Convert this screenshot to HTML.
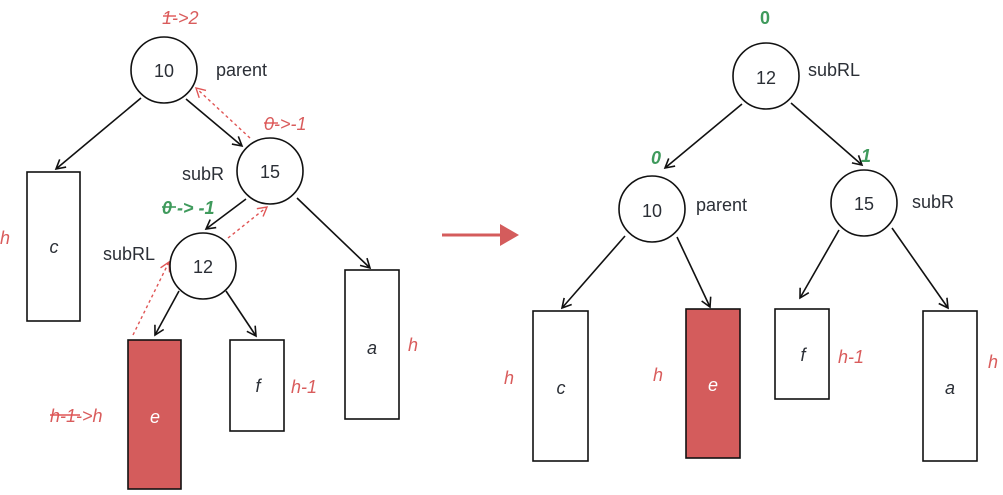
<!DOCTYPE html>
<html><head><meta charset="utf-8"><style>
html,body{margin:0;padding:0;background:#fff;}
svg{display:block;}
text{font-family:"Liberation Sans",sans-serif;}
.n{font-size:18px;fill:#2b2f36;text-anchor:middle;dominant-baseline:central;}
.lb{font-size:18px;fill:#2b2f36;dominant-baseline:central;}
.r{font-size:18px;fill:#d95c5c;font-style:italic;dominant-baseline:central;}
.g{font-size:18px;fill:#3f9a5c;font-style:italic;font-weight:bold;dominant-baseline:central;}
.it{font-size:18px;fill:#2b2f36;font-style:italic;text-anchor:middle;dominant-baseline:central;}
</style></head><body>
<svg width="1003" height="495" viewBox="0 0 1003 495">
<defs>
<marker id="ah" markerWidth="12" markerHeight="12" refX="10" refY="6" orient="auto" markerUnits="userSpaceOnUse">
<path d="M1,1 L10,6 L1,11" fill="none" stroke="#111" stroke-width="1.6"/></marker>
<marker id="rh" markerWidth="12" markerHeight="12" refX="10" refY="6" orient="auto" markerUnits="userSpaceOnUse">
<path d="M1,1 L10,6 L1,11" fill="none" stroke="#e05555" stroke-width="1.4"/></marker>
</defs>
<g stroke="#111" stroke-width="1.6" fill="none">
<!-- left edges -->
<line x1="141" y1="98" x2="56" y2="169" marker-end="url(#ah)"/>
<line x1="186" y1="99" x2="242" y2="146" marker-end="url(#ah)"/>
<line x1="246" y1="199" x2="206" y2="229" marker-end="url(#ah)"/>
<line x1="297" y1="198" x2="370" y2="268" marker-end="url(#ah)"/>
<line x1="179" y1="291" x2="155" y2="335" marker-end="url(#ah)"/>
<line x1="226" y1="291" x2="256" y2="336" marker-end="url(#ah)"/>
<!-- right edges -->
<line x1="742" y1="104" x2="665" y2="168" marker-end="url(#ah)"/>
<line x1="791" y1="103" x2="862" y2="165" marker-end="url(#ah)"/>
<line x1="625" y1="236" x2="562" y2="308" marker-end="url(#ah)"/>
<line x1="677" y1="237" x2="710" y2="307" marker-end="url(#ah)"/>
<line x1="839" y1="230" x2="800" y2="298" marker-end="url(#ah)"/>
<line x1="892" y1="228" x2="948" y2="308" marker-end="url(#ah)"/>
</g>
<g stroke="#e05555" stroke-width="1.4" stroke-dasharray="3,3" fill="none">
<line x1="250" y1="138" x2="196" y2="88" marker-end="url(#rh)"/>
<line x1="228" y1="238" x2="267" y2="207" marker-end="url(#rh)"/>
<line x1="133" y1="335" x2="169" y2="262" marker-end="url(#rh)"/>
</g>
<g fill="#fff" stroke="#111" stroke-width="1.6">
<circle cx="164" cy="70" r="33"/>
<circle cx="270" cy="171" r="33"/>
<circle cx="203" cy="266" r="33"/>
<circle cx="766" cy="76" r="33"/>
<circle cx="652" cy="209" r="33"/>
<circle cx="864" cy="203" r="33"/>
<rect x="27" y="172" width="53" height="149"/>
<rect x="128" y="340" width="53" height="149" fill="#d45c5c"/>
<rect x="230" y="340" width="54" height="91"/>
<rect x="345" y="270" width="54" height="149"/>
<rect x="533" y="311" width="55" height="150"/>
<rect x="686" y="309" width="54" height="149" fill="#d45c5c"/>
<rect x="775" y="309" width="54" height="90"/>
<rect x="923" y="311" width="54" height="150"/>
</g>
<text class="n" x="164" y="71">10</text>
<text class="n" x="270" y="172">15</text>
<text class="n" x="203" y="267">12</text>
<text class="n" x="766" y="78">12</text>
<text class="n" x="652" y="211">10</text>
<text class="n" x="864" y="204">15</text>
<text class="it" x="54" y="247">c</text>
<text class="it" x="155" y="417" style="fill:#fff">e</text>
<text class="it" x="258" y="386">f</text>
<text class="it" x="372" y="348">a</text>
<text class="it" x="561" y="388">c</text>
<text class="it" x="713" y="385" style="fill:#fff">e</text>
<text class="it" x="803" y="355">f</text>
<text class="it" x="950" y="388">a</text>
<text class="lb" x="216" y="70">parent</text>
<text class="lb" x="182" y="174">subR</text>
<text class="lb" x="103" y="254">subRL</text>
<text class="lb" x="808" y="70">subRL</text>
<text class="lb" x="696" y="205">parent</text>
<text class="lb" x="912" y="202">subR</text>
<text class="r" x="162" y="18">1-&gt;2</text>
<line x1="163" y1="16" x2="176" y2="16" stroke="#e05555" stroke-width="1.4"/>
<text class="r" x="264" y="124">0-&gt;-1</text>
<line x1="264" y1="123" x2="278" y2="123" stroke="#e05555" stroke-width="1.4"/>
<text class="g" x="162" y="208">0 -&gt; -1</text>
<line x1="162" y1="207" x2="176" y2="207" stroke="#3f9a5c" stroke-width="1.6"/>
<text class="r" x="0" y="238">h</text>
<text class="r" x="50" y="416">h-1-&gt;h</text>
<line x1="50" y1="415" x2="80" y2="415" stroke="#e05555" stroke-width="1.4"/>
<text class="r" x="291" y="387">h-1</text>
<text class="r" x="408" y="345">h</text>
<text class="g" x="760" y="18" style="font-style:normal">0</text>
<text class="g" x="651" y="158">0</text>
<text class="g" x="861" y="156">1</text>
<text class="r" x="504" y="378">h</text>
<text class="r" x="653" y="375">h</text>
<text class="r" x="838" y="357">h-1</text>
<text class="r" x="988" y="362">h</text>
<line x1="442" y1="235" x2="502" y2="235" stroke="#d45c5c" stroke-width="3"/>
<polygon points="500,224 519,235 500,246" fill="#d45c5c"/>
</svg>
</body></html>
